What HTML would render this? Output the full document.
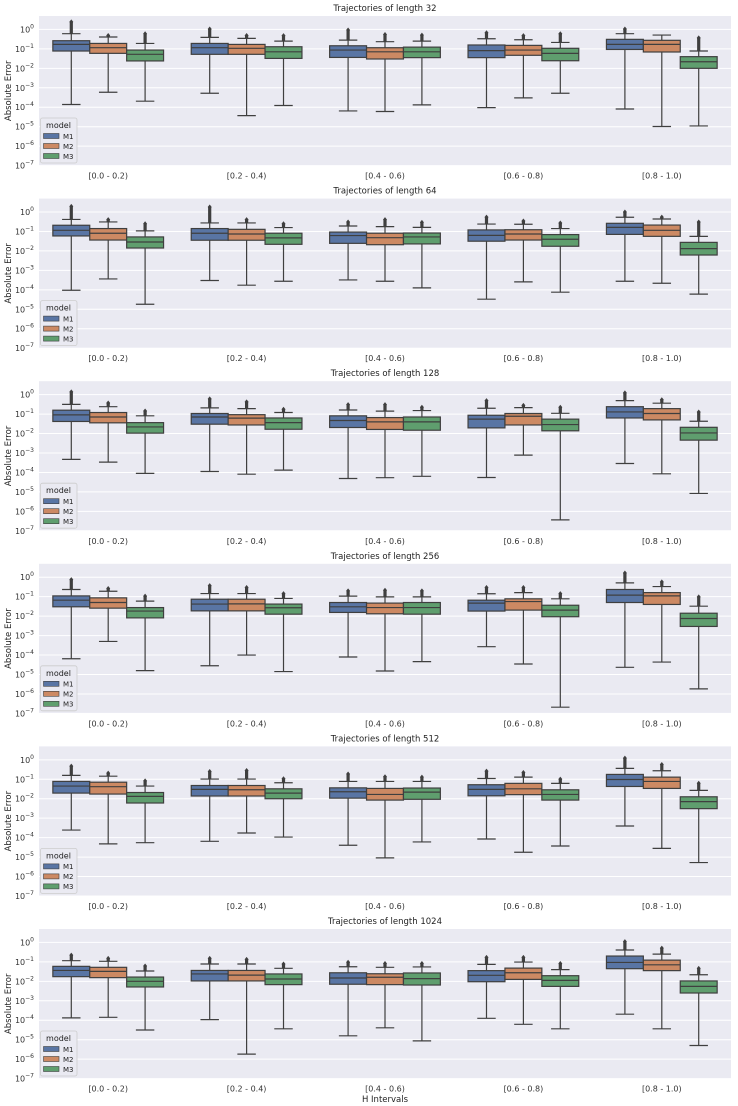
<!DOCTYPE html>
<html><head><meta charset="utf-8">
<style>
html,body{margin:0;padding:0;background:#fff;}
svg{display:block;font-family:"DejaVu Sans","Liberation Sans",sans-serif;}
</style></head>
<body>
<svg id="chart" width="738" height="1106" viewBox="0 0 738 1106" xmlns="http://www.w3.org/2000/svg"></svg>
<script>
// ---- data (log10 of absolute error) ----
const panelTitles = ["Trajectories of length 32","Trajectories of length 64","Trajectories of length 128","Trajectories of length 256","Trajectories of length 512","Trajectories of length 1024"];
const categories = ["[0.0 - 0.2)","[0.2 - 0.4)","[0.4 - 0.6)","[0.6 - 0.8)","[0.8 - 1.0)"];
const models = ["M1","M2","M3"];
const yTickExps = [0,-1,-2,-3,-4,-5,-6,-7];

const q3P1 = [-0.58,-0.72,-1.06,-0.72,-0.77,-0.89,-0.84,-0.94,-0.91,-0.8,-0.82,-0.97,-0.51,-0.56,-1.4];
const medP1 = [-0.77,-0.94,-1.28,-0.94,-0.97,-1.15,-1.06,-1.15,-1.15,-1.09,-1.06,-1.23,-0.77,-0.77,-1.66];
const q1P1 = [-1.11,-1.23,-1.62,-1.28,-1.28,-1.49,-1.44,-1.52,-1.45,-1.45,-1.33,-1.61,-1.03,-1.16,-2.0];
const whiP1 = [-0.22,-0.39,-0.72,-0.41,-0.46,-0.6,-0.55,-0.63,-0.6,-0.48,-0.53,-0.67,-0.22,-0.29,-1.11];
const wloP1 = [-3.86,-3.23,-3.69,-3.28,-4.43,-3.91,-4.19,-4.22,-3.88,-4.02,-3.52,-3.28,-4.09,-4.99,-4.96];
const omaxP1 = [0.44,-0.26,-0.17,0.07,-0.26,-0.27,0.02,-0.21,-0.24,-0.12,-0.27,-0.17,0.07,-0.29,-0.38];

const q3P2 = [-0.68,-0.85,-1.28,-0.85,-0.89,-1.09,-1.03,-1.09,-1.08,-0.92,-0.91,-1.16,-0.58,-0.67,-1.56];
const medP2 = [-0.94,-1.09,-1.54,-1.09,-1.13,-1.33,-1.21,-1.32,-1.28,-1.2,-1.13,-1.4,-0.79,-0.94,-1.88];
const q1P2 = [-1.23,-1.44,-1.85,-1.45,-1.45,-1.66,-1.61,-1.68,-1.64,-1.5,-1.44,-1.76,-1.15,-1.25,-2.21];
const whiP2 = [-0.38,-0.51,-0.97,-0.56,-0.56,-0.8,-0.72,-0.75,-0.79,-0.62,-0.63,-0.85,-0.27,-0.36,-1.25];
const wloP2 = [-4.02,-3.44,-4.74,-3.52,-3.76,-3.56,-3.49,-3.56,-3.9,-4.48,-3.59,-4.12,-3.56,-3.66,-4.22];
const omaxP2 = [0.34,-0.34,-0.55,0.31,-0.34,-0.55,-0.46,-0.34,-0.48,-0.21,-0.41,-0.51,0.05,-0.21,-0.46];

const q3P3 = [-0.8,-0.92,-1.44,-0.97,-1.03,-1.2,-1.09,-1.18,-1.15,-1.06,-0.97,-1.26,-0.62,-0.72,-1.68];
const medP3 = [-1.04,-1.15,-1.66,-1.15,-1.21,-1.44,-1.33,-1.4,-1.4,-1.26,-1.11,-1.54,-0.89,-0.97,-1.97];
const q1P3 = [-1.38,-1.45,-1.98,-1.52,-1.56,-1.78,-1.69,-1.79,-1.83,-1.71,-1.56,-1.86,-1.2,-1.3,-2.34];
const whiP3 = [-0.5,-0.62,-1.09,-0.68,-0.72,-0.92,-0.79,-0.85,-0.82,-0.7,-0.67,-0.96,-0.31,-0.44,-1.37];
const wloP3 = [-3.33,-3.47,-4.05,-3.95,-4.09,-3.88,-4.31,-4.27,-4.2,-4.26,-3.11,-6.44,-3.54,-4.07,-5.08];
const omaxP3 = [0.19,-0.38,-0.79,-0.17,-0.32,-0.7,-0.46,-0.46,-0.6,-0.26,-0.5,-0.6,0.14,-0.21,-0.84];

const q3P4 = [-0.96,-1.06,-1.56,-1.13,-1.13,-1.38,-1.3,-1.33,-1.3,-1.18,-1.11,-1.44,-0.63,-0.79,-1.85];
const medP4 = [-1.18,-1.3,-1.74,-1.38,-1.37,-1.57,-1.52,-1.56,-1.56,-1.33,-1.25,-1.69,-0.92,-0.96,-2.12];
const q1P4 = [-1.52,-1.59,-2.09,-1.73,-1.73,-1.9,-1.81,-1.88,-1.9,-1.74,-1.69,-2.03,-1.3,-1.4,-2.53];
const whiP4 = [-0.63,-0.72,-1.23,-0.84,-0.84,-1.09,-0.97,-1.01,-1.01,-0.85,-0.79,-1.11,-0.29,-0.48,-1.49];
const wloP4 = [-4.19,-3.3,-4.8,-4.55,-4.0,-4.85,-4.1,-4.82,-4.34,-3.57,-4.46,-6.68,-4.63,-4.36,-5.74];
const omaxP4 = [-0.07,-0.53,-0.92,-0.38,-0.48,-0.79,-0.65,-0.62,-0.65,-0.48,-0.48,-0.79,0.27,-0.19,-0.96];

const q3P5 = [-1.11,-1.15,-1.68,-1.32,-1.32,-1.49,-1.44,-1.47,-1.45,-1.28,-1.21,-1.54,-0.75,-0.89,-1.9];
const medP5 = [-1.35,-1.38,-1.88,-1.52,-1.54,-1.71,-1.64,-1.78,-1.66,-1.52,-1.49,-1.78,-1.01,-1.11,-2.15];
const q1P5 = [-1.71,-1.76,-2.22,-1.86,-1.86,-2.0,-1.97,-2.07,-2.03,-1.85,-1.79,-2.07,-1.37,-1.47,-2.51];
const whiP5 = [-0.8,-0.84,-1.35,-0.99,-0.99,-1.18,-1.11,-1.11,-1.11,-0.96,-0.89,-1.21,-0.44,-0.56,-1.57];
const wloP5 = [-3.61,-4.32,-4.26,-4.19,-3.76,-3.97,-4.39,-5.04,-4.22,-4.07,-4.75,-4.43,-3.4,-4.55,-5.28];
const omaxP5 = [-0.27,-0.63,-1.03,-0.55,-0.5,-0.92,-0.68,-0.82,-0.84,-0.53,-0.6,-0.94,0.14,-0.19,-1.15];

const q3P6 = [-1.23,-1.28,-1.78,-1.44,-1.44,-1.62,-1.56,-1.61,-1.57,-1.45,-1.32,-1.71,-0.7,-0.91,-1.98];
const medP6 = [-1.44,-1.49,-2.0,-1.62,-1.68,-1.88,-1.83,-1.79,-1.86,-1.69,-1.56,-1.95,-1.03,-1.15,-2.26];
const q1P6 = [-1.76,-1.81,-2.29,-1.98,-1.98,-2.17,-2.15,-2.17,-2.19,-2.02,-1.9,-2.26,-1.35,-1.45,-2.6];
const whiP6 = [-0.94,-0.97,-1.47,-1.11,-1.11,-1.33,-1.25,-1.28,-1.26,-1.13,-1.01,-1.4,-0.39,-0.6,-1.66];
const wloP6 = [-3.88,-3.85,-4.5,-3.97,-5.74,-4.44,-4.8,-4.39,-5.06,-3.9,-4.21,-4.44,-3.69,-4.44,-5.3];
const omaxP6 = [-0.6,-0.77,-1.16,-0.77,-0.82,-1.06,-0.97,-1.03,-1.03,-0.72,-0.72,-1.03,0.09,-0.24,-1.28];

const q3All = [q3P1,q3P2,q3P3,q3P4,q3P5,q3P6];
const medAll = [medP1,medP2,medP3,medP4,medP5,medP6];
const q1All = [q1P1,q1P2,q1P3,q1P4,q1P5,q1P6];
const whiAll = [whiP1,whiP2,whiP3,whiP4,whiP5,whiP6];
const wloAll = [wloP1,wloP2,wloP3,wloP4,wloP5,wloP6];
const omaxAll = [omaxP1,omaxP2,omaxP3,omaxP4,omaxP5,omaxP6];

// ---- drawing ----
const NS = "http://www.w3.org/2000/svg";
const svg = document.getElementById("chart");
const colors = ["#5975a4","#cc8963","#5f9e6e"];
const lineC = "#3f3f3f";
const X0 = 39, X1 = 731, PH = 149.6, YMAX = 0.69, YMIN = -7, PSTEP = 182.6;

function mk(tag, attrs, parent) {
  const e = document.createElementNS(NS, tag);
  for (const k in attrs) e.setAttribute(k, attrs[k]);
  (parent || svg).appendChild(e);
  return e;
}
function xBand(g) { return X0 + (g + 0.5) * (X1 - X0) / categories.length; }
function boxX(g, m) { const gw = (X1 - X0) / categories.length * 0.8; const bw = gw / 3; return xBand(g) - gw / 2 + m * bw; }
function boxW() { return (X1 - X0) / categories.length * 0.8 / 3; }

for (let p = 0; p < panelTitles.length; p++) {
  const top = 16 + p * PSTEP;
  const yS = v => top + (YMAX - v) / (YMAX - YMIN) * PH;
  const g = mk("g", {});
  
  

  const bg = mk("rect", {x: X0, y: top, width: X1 - X0, height: PH, fill: "#eaeaf2"}, g);
  
  

  const t = mk("text", {x: (X0 + X1) / 2, y: top - 5, "text-anchor": "middle", "font-size": "8.5", fill: "#222"}, g);
  t.textContent = panelTitles[p];
  
  

  yTickExps.forEach(e => {
    const y = yS(e);
    const gl = mk("line", {x1: X0, x2: X1, y1: y, y2: y, stroke: "#fff", "stroke-width": 1}, g);
    
    
    const tl = mk("text", {x: 34, y: y + 3, "text-anchor": "end", "font-size": "8", fill: "#333"}, g);
    
    
    const a = document.createElementNS(NS, "tspan"); a.textContent = "10"; tl.appendChild(a);
    const b = document.createElementNS(NS, "tspan"); b.setAttribute("dy", "-4"); b.setAttribute("font-size", "6");
    b.textContent = e === 0 ? "0" : "\u2212" + Math.abs(e); tl.appendChild(b);
  });

  const yl = mk("text", {x: 0, y: 0, transform: `translate(11,${top + PH / 2}) rotate(-90)`, "text-anchor": "middle", "font-size": "8.5", fill: "#222"}, g);
  yl.textContent = "Absolute Error";
  
  

  categories.forEach((c, gi) => {
    const xl = mk("text", {x: xBand(gi), y: top + PH + 13, "text-anchor": "middle", "font-size": "8", fill: "#333"}, g);
    xl.textContent = c;
    
    
  });

  for (let gi = 0; gi < categories.length; gi++) {
    for (let m = 0; m < models.length; m++) {
      const i = gi * 3 + m;
      const bx = boxX(gi, m), bw = boxW(), cx = bx + bw / 2;
      const q1 = q1All[p][i], q3 = q3All[p][i], md = medAll[p][i], hi = whiAll[p][i], lo = wloAll[p][i], om = omaxAll[p][i];
      const bg2 = mk("g", {}, g);
      
      
      if (om > hi) {
        mk("line", {x1: cx, x2: cx, y1: yS(hi), y2: yS(om) + 1, stroke: lineC, "stroke-width": 3.2}, bg2);
        mk("path", {d: `M${cx} ${yS(om) - 1.5} l2 2.5 l-2 2.5 l-2 -2.5z`, fill: lineC}, bg2);
      }
      mk("line", {x1: cx, x2: cx, y1: yS(hi), y2: yS(q3), stroke: lineC, "stroke-width": 1.2}, bg2);
      mk("line", {x1: cx, x2: cx, y1: yS(q1), y2: yS(lo), stroke: lineC, "stroke-width": 1.2}, bg2);
      mk("line", {x1: cx - bw / 4, x2: cx + bw / 4, y1: yS(hi), y2: yS(hi), stroke: lineC, "stroke-width": 1.2}, bg2);
      mk("line", {x1: cx - bw / 4, x2: cx + bw / 4, y1: yS(lo), y2: yS(lo), stroke: lineC, "stroke-width": 1.2}, bg2);
      mk("rect", {x: bx, y: yS(q3), width: bw, height: yS(q1) - yS(q3), fill: colors[m], stroke: lineC, "stroke-width": 1.2}, bg2);
      mk("line", {x1: bx, x2: bx + bw, y1: yS(md), y2: yS(md), stroke: lineC, "stroke-width": 1.2}, bg2);
    }
  }

  const lg = mk("g", {}, g);
  
  
  mk("rect", {x: 40.5, y: top + 102, width: 36.5, height: 45, rx: 2, fill: "#eaeaf2", stroke: "#cccccc", "stroke-width": 0.8}, lg);
  const lt = mk("text", {x: 58.5, y: top + 112, "text-anchor": "middle", "font-size": "8", fill: "#222"}, lg);
  lt.textContent = "model";
  models.forEach((mn, m) => {
    const ey = top + 120 + m * 10;
    const e = mk("g", {}, lg);
    
    
    mk("rect", {x: 43.5, y: ey - 2.5, width: 15.5, height: 5, fill: colors[m], stroke: lineC, "stroke-width": 0.6}, e);
    const tx = mk("text", {x: 63, y: ey + 2.8, "font-size": "7", fill: "#222"}, e);
    tx.textContent = mn;
  });
}
const xt = mk("text", {x: (X0 + X1) / 2, y: 1102, "text-anchor": "middle", "font-size": "8.5", fill: "#222"});
xt.textContent = "H Intervals";


</script>
</body></html>
